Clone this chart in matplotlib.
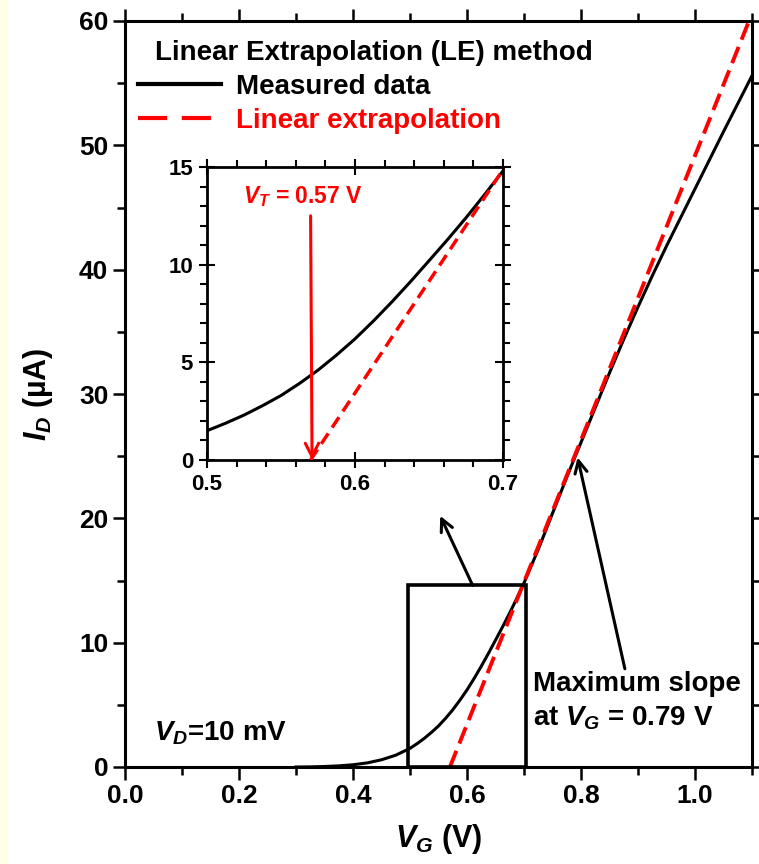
import numpy as np
import matplotlib
matplotlib.use("Agg")
import matplotlib.pyplot as plt
from matplotlib.lines import Line2D
from matplotlib.patches import Rectangle
from matplotlib.ticker import MultipleLocator, FormatStrFormatter

plt.rcParams['font.family'] = ['Liberation Sans', 'DejaVu Sans']
plt.rcParams['font.weight'] = 'bold'
plt.rcParams['mathtext.fontset'] = 'custom'
plt.rcParams['mathtext.it'] = 'Liberation Sans:italic:bold'
plt.rcParams['mathtext.rm'] = 'Liberation Sans:bold'
plt.rcParams['mathtext.bf'] = 'Liberation Sans:bold'

# Measured transfer curve (V_G in V, I_D in uA)
vg = [0.30, 0.325, 0.35, 0.375, 0.40, 0.425, 0.45, 0.475, 0.50, 0.5125,
      0.525, 0.5375, 0.55, 0.5625, 0.575, 0.5875, 0.60, 0.6125, 0.625,
      0.6375, 0.65, 0.6625, 0.675, 0.6875, 0.70, 0.725, 0.75, 0.775, 0.79,
      0.80, 0.825, 0.85, 0.875, 0.90, 0.925, 0.95, 0.975, 1.00, 1.025, 1.05,
      1.075, 1.10]
id_ua = [0.0, 0.01, 0.04, 0.09, 0.18, 0.33, 0.58, 0.95, 1.5, 1.88,
         2.3, 2.78, 3.3, 3.92, 4.6, 5.37, 6.2, 7.12, 8.1,
         9.13, 10.2, 11.28, 12.4, 13.58, 14.8, 17.5, 20.4, 23.3, 25.0,
         26.1, 28.9, 31.7, 34.4, 37.0, 39.5, 41.9, 44.2, 46.5, 48.8, 51.1,
         53.35, 55.6]

# Linear extrapolation line (through max-slope point, hits 0 at V_T)
ext_vg = [0.57, 1.10]
ext_id = [0.0, 60.6]
vt = 0.57
vg_max_slope = 0.79

W, H = 759, 864
fig = plt.figure(figsize=(W / 100, H / 100), dpi=100)
fig.patches.append(Rectangle((0, 0), 8 / W, 1, transform=fig.transFigure,
                             facecolor='#FFFFE6', edgecolor='none', zorder=-10))

ax = fig.add_axes([125 / W, 1 - 767 / H, (752 - 125) / W, (767 - 21) / H])
ax.plot(vg, id_ua, color='black', lw=2.2, zorder=3)
ax.plot(ext_vg, ext_id, color='#FF0000', lw=2.8, dashes=(4.5, 2), zorder=4)
ax.set_xlim(0, 1.1)
ax.set_ylim(0, 60)
ax.xaxis.set_major_locator(MultipleLocator(0.2))
ax.xaxis.set_minor_locator(MultipleLocator(0.1))
ax.yaxis.set_major_locator(MultipleLocator(10))
ax.yaxis.set_minor_locator(MultipleLocator(5))
ax.xaxis.set_major_formatter(FormatStrFormatter('%.1f'))
ax.tick_params(which='both', direction='out', top=True, right=True, width=1.8,
               labelsize=19)
ax.tick_params(which='major', length=9, pad=3)
ax.tick_params(which='minor', length=6)
for s in ax.spines.values():
    s.set_linewidth(2.2)
ax.set_xlabel(r'$V_G$ (V)', fontsize=22, fontweight='bold', labelpad=10)
ax.set_ylabel(r'$I_D$' + ' (\u00b5A)', fontsize=22, fontweight='bold',
              labelpad=17)

# legend
ax.text(0.048, 0.957, 'Linear Extrapolation (LE) method',
        transform=ax.transAxes, fontsize=20, fontweight='bold', va='center')
h1 = Line2D([], [], color='black', lw=3)
h2 = Line2D([], [], color='#FF0000', lw=3, dashes=(7, 3.5))
leg = ax.legend([h1, h2], ['Measured data', 'Linear extrapolation'],
                loc='upper left', bbox_to_anchor=(0.02, 0.929), frameon=False,
                fontsize=20, handlelength=3.0, handletextpad=0.55,
                labelspacing=0.28, borderaxespad=0.0, borderpad=0.0)
leg.get_texts()[1].set_color('#FF0000')

ax.text(0.05, 2.7, r'$V_D$=10 mV', fontsize=20, fontweight='bold', va='center')
ax.text(0.716, 5.3, 'Maximum slope\nat ' + r'$V_G$' + ' = 0.79 V', fontsize=20,
        fontweight='bold', va='center', linespacing=1.35)

# zoom rectangle
ax.add_patch(Rectangle((0.497, 0), 0.703 - 0.497, 14.6, fill=False,
                       edgecolor='black', lw=2.6, zorder=5))
ax.annotate('', xy=(0.553, 20.2), xytext=(0.61, 14.6),
            arrowprops=dict(arrowstyle='->', color='black', lw=2.2,
                            mutation_scale=22, shrinkA=0, shrinkB=0))
ax.annotate('', xy=(vg_max_slope + 0.004, 24.9), xytext=(0.877, 7.9),
            arrowprops=dict(arrowstyle='->', color='black', lw=2.2,
                            mutation_scale=22, shrinkA=0, shrinkB=0))

# inset
axi = fig.add_axes([207 / W, 1 - 460 / H, (503 - 207) / W, (460 - 167) / H])
axi.plot(vg, id_ua, color='black', lw=2.2, zorder=3)
axi.plot(ext_vg, ext_id, color='#FF0000', lw=2.5, dashes=(3.6, 2), zorder=4)
axi.set_xlim(0.5, 0.7)
axi.set_ylim(0, 15)
axi.xaxis.set_major_locator(MultipleLocator(0.1))
axi.xaxis.set_minor_locator(MultipleLocator(0.02))
axi.yaxis.set_major_locator(MultipleLocator(5))
axi.yaxis.set_minor_locator(MultipleLocator(1))
axi.xaxis.set_major_formatter(FormatStrFormatter('%.1f'))
axi.tick_params(which='both', top=True, right=True, width=1.5, labelsize=16)
axi.tick_params(which='major', direction='inout', length=12, pad=4)
axi.tick_params(which='minor', direction='out', length=5)
for s in axi.spines.values():
    s.set_linewidth(2.0)
axi.annotate('', xy=(vt + 0.001, 0.0), xytext=(vt, 12.5),
             arrowprops=dict(arrowstyle='->', color='#FF0000', lw=2.2,
                             mutation_scale=24, shrinkA=0, shrinkB=0), zorder=6)
axi.text(0.524, 13.5, r'$V_T$ = 0.57 V', color='#FF0000', fontsize=16.5,
         fontweight='bold', va='center')

fig.savefig('out.png', dpi=100, facecolor='white')
